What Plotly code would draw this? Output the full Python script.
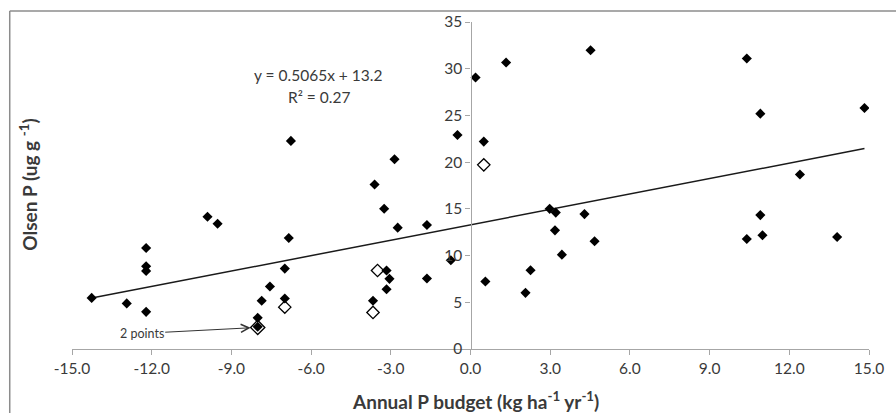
import plotly.graph_objects as go

# Filled points (Annual P budget, Olsen P)
filled_x = [-14.26, -12.94, -12.21, -12.21, -12.21, -12.21, -9.90, -9.52, -8.01, -8.01,
            -7.86, -7.55, -6.99, -6.99, -6.84, -6.76, -3.67, -3.61, -3.25, -3.16,
            -3.05, -3.16, -2.86, -2.74, -1.64, -1.64, -0.74, -0.49, 0.19, 0.50,
            0.56, 1.34, 2.07, 2.26, 2.98, 3.21, 3.18, 3.44, 4.29, 4.52,
            4.67, 10.40, 10.91, 14.83, 12.40, 10.91, 10.40, 10.99, 13.80]
filled_y = [5.47, 4.88, 3.98, 10.81, 8.86, 8.36, 14.16, 13.41, 2.38, 3.34,
            5.16, 6.69, 5.41, 8.61, 11.88, 22.27, 5.16, 17.61, 15.01, 8.40,
            7.51, 6.40, 20.31, 12.99, 13.27, 7.54, 9.50, 22.91, 29.06, 22.20,
            7.22, 30.66, 6.01, 8.43, 15.00, 14.60, 12.70, 10.10, 14.44, 31.98,
            11.53, 31.09, 25.19, 25.79, 18.68, 14.33, 11.77, 12.17, 11.99]

# Open points
open_x = [-6.99, -3.50, -3.67, 0.50]
open_y = [4.48, 8.40, 3.91, 19.71]
double_x = [-8.01]
double_y = [2.31]

# Trend line endpoints (as drawn)
trend_x = [-14.26, 14.83]
trend_y = [5.45, 21.45]

x_ticks = [-15, -12, -9, -6, -3, 0, 3, 6, 9, 12, 15]
y_ticks = [0, 5, 10, 15, 20, 25, 30, 35]

FONT = "Lato"
TXT = "#3a3a3a"
AX = "#a6a6a6"

fig = go.Figure()
fig.add_trace(go.Scatter(x=trend_x, y=trend_y, mode="lines",
                         line=dict(color="#1a1a1a", width=1.5), hoverinfo="skip"))
fig.add_trace(go.Scatter(x=filled_x, y=filled_y, mode="markers",
                         marker=dict(symbol="diamond", size=7.8, color="black")))
fig.add_trace(go.Scatter(x=open_x, y=open_y, mode="markers",
                         marker=dict(symbol="diamond-open", size=9.5, color="black",
                                     line=dict(width=1.3, color="black"))))
fig.add_trace(go.Scatter(x=double_x, y=double_y, mode="markers",
                         marker=dict(symbol="diamond-open", size=11, color="black",
                                     line=dict(width=1.3, color="black"))))

fig.update_layout(
    width=896, height=413,
    margin=dict(l=72, r=24, t=21, b=64),
    paper_bgcolor="white", plot_bgcolor="white",
    showlegend=False,
    font=dict(family=FONT, size=15, color=TXT),
    xaxis=dict(range=[-15, 15], tickvals=x_ticks,
               ticktext=[f"{v:.1f}" for v in x_ticks],
               showline=True, linecolor=AX, linewidth=1.2,
               ticks="outside", ticklen=5, tickcolor=AX, tickwidth=1.2,
               showgrid=False, zeroline=False,
               tickfont=dict(family=FONT, size=15.5, color=TXT)),
    yaxis=dict(range=[0, 35], tickvals=y_ticks, anchor="free", position=0.5,
               showline=True, linecolor=AX, linewidth=1.2,
               ticks="outside", ticklen=5, tickcolor=AX, tickwidth=1.2,
               showgrid=False, zeroline=False,
               tickfont=dict(family=FONT, size=15.5, color=TXT)),
)

# chart frame (top and left edges visible)
fx = (9.5 - 72) / 800
fy = 1 + (21 - 10) / 328
fig.add_shape(type="line", xref="paper", yref="paper", x0=fx, y0=fy, x1=1.2, y1=fy,
              line=dict(color="#8c8c8c", width=1.5))
fig.add_shape(type="line", xref="paper", yref="paper", x0=fx, y0=fy, x1=fx, y1=-0.3,
              line=dict(color="#8c8c8c", width=1.5))

fig.add_annotation(x=-5.73, y=29.3, xref="x", yref="y", showarrow=False,
                   text="y = 0.5065x + 13.2", font=dict(family=FONT, size=15.5, color=TXT))
fig.add_annotation(x=-5.70, y=27.0, xref="x", yref="y", showarrow=False,
                   text="R² = 0.27", font=dict(family=FONT, size=15.5, color=TXT))

fig.add_annotation(x=-8.01, y=2.31, xref="x", yref="y", text="2 points",
                   showarrow=True, ax=-116, ay=6, arrowhead=5, arrowsize=1.6,
                   arrowwidth=1, arrowcolor="#333333", standoff=7,
                   font=dict(family=FONT, size=12.5, color=TXT))

# axis titles
fig.add_annotation(x=(477 - 72) / 800, y=(349 - 401) / 328, xref="paper", yref="paper",
                   showarrow=False, xanchor="center", yanchor="middle",
                   text="<b>Annual P budget (kg ha<sup>-1</sup> yr<sup>-1</sup>)</b>",
                   font=dict(family=FONT, size=19, color=TXT))
fig.add_annotation(x=(28 - 72) / 800, y=(349 - 184) / 328, xref="paper", yref="paper",
                   showarrow=False, textangle=-90, xanchor="center", yanchor="middle",
                   text="<b>Olsen P (ug g <sup>-1</sup>)</b>",
                   font=dict(family=FONT, size=19, color=TXT))

fig.write_html("out.html", config={"displayModeBar": False},
               post_script="document.body.style.margin='0';document.body.style.overflow='hidden';")
